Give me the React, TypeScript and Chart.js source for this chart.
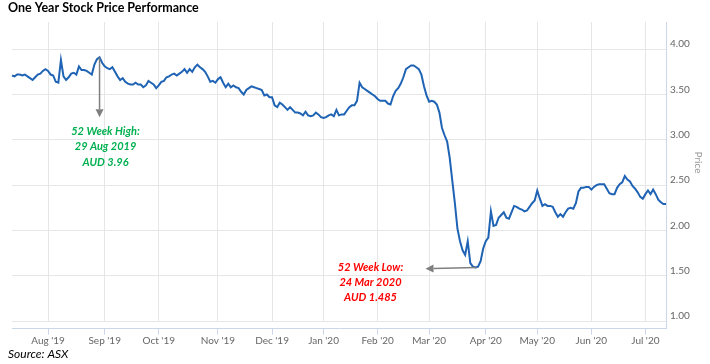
import React, { useEffect, useRef } from 'react';
import { Chart, registerables } from 'chart.js';

Chart.register(...registerables);

// ---------------- data ----------------
const FIRST_DAY = '2019-07-12';
const LAST_DAY = '2020-07-13';
const ASX_HOLIDAYS = ['2019-12-25', '2019-12-26', '2020-01-01', '2020-01-27', '2020-04-10', '2020-04-13', '2020-06-08'];

const pricesJul19 = [3.71, 3.70, 3.72, 3.72, 3.71, 3.72, 3.70, 3.68, 3.66, 3.69, 3.72, 3.73, 3.76, 3.78];
const pricesAug19 = [3.76, 3.72, 3.71, 3.64, 3.63, 3.88, 3.70, 3.66, 3.69, 3.73, 3.74, 3.72, 3.81, 3.77, 3.77, 3.76, 3.74, 3.72, 3.83, 3.89, 3.91, 3.85];
const pricesSep19 = [3.81, 3.79, 3.78, 3.80, 3.75, 3.70, 3.66, 3.68, 3.64, 3.62, 3.61, 3.61, 3.63, 3.61, 3.61, 3.58, 3.60, 3.65, 3.63, 3.61, 3.57];
const pricesOct19 = [3.60, 3.64, 3.65, 3.69, 3.70, 3.72, 3.73, 3.71, 3.73, 3.75, 3.78, 3.74, 3.78, 3.75, 3.80, 3.83, 3.80, 3.78, 3.75, 3.70, 3.64, 3.65, 3.63];
const pricesNov19 = [3.67, 3.69, 3.63, 3.58, 3.62, 3.58, 3.60, 3.58, 3.57, 3.53, 3.50, 3.55, 3.57, 3.59, 3.58, 3.57, 3.56, 3.55, 3.49, 3.50, 3.47];
const pricesDec19 = [3.47, 3.38, 3.36, 3.41, 3.39, 3.36, 3.33, 3.36, 3.33, 3.30, 3.30, 3.29, 3.27, 3.31, 3.27, 3.26, 3.27, 3.30, 3.28, 3.25];
const pricesJan20 = [3.24, 3.25, 3.27, 3.28, 3.26, 3.33, 3.27, 3.28, 3.28, 3.32, 3.36, 3.38, 3.38, 3.43, 3.63, 3.58, 3.56, 3.54, 3.52, 3.50, 3.48];
const pricesFeb20 = [3.45, 3.43, 3.43, 3.43, 3.40, 3.39, 3.48, 3.54, 3.57, 3.62, 3.69, 3.78, 3.80, 3.82, 3.82, 3.80, 3.78, 3.72, 3.59, 3.49];
const pricesMar20 = [3.42, 3.43, 3.42, 3.39, 3.30, 3.13, 3.05, 2.98, 2.80, 2.55, 2.30, 2.02, 1.88, 1.78, 1.73, 1.88, 1.64, 1.60, 1.59, 1.60, 1.66, 1.80];
const pricesApr20 = [1.88, 1.92, 2.21, 2.05, 2.06, 2.14, 2.17, 2.20, 2.14, 2.13, 2.20, 2.27, 2.26, 2.24, 2.23, 2.21, 2.22, 2.26, 2.30, 2.33];
const pricesMay20 = [2.44, 2.35, 2.27, 2.29, 2.27, 2.27, 2.26, 2.20, 2.15, 2.18, 2.15, 2.20, 2.24, 2.25, 2.24, 2.30, 2.43, 2.47, 2.47, 2.48, 2.48];
const pricesJun20 = [2.45, 2.48, 2.50, 2.51, 2.51, 2.51, 2.46, 2.41, 2.40, 2.40, 2.47, 2.51, 2.53, 2.60, 2.56, 2.54, 2.49, 2.46, 2.42, 2.37, 2.35];
const pricesJul20 = [2.40, 2.44, 2.40, 2.45, 2.40, 2.34, 2.31, 2.29, 2.29];

const Y_TICKS = [1.0, 1.5, 2.0, 2.5, 3.0, 3.5, 4.0];
const Y_MIN = 1.0;
const Y_MAX = 4.3;
const MONTH_NAMES = ['Jan', 'Feb', 'Mar', 'Apr', 'May', 'Jun', 'Jul', 'Aug', 'Sep', 'Oct', 'Nov', 'Dec'];

const TITLE = 'One Year Stock Price Performance';
const SOURCE = 'Source: ASX';
const AXIS_TITLE = 'Price';

const HIGH_DATE = '2019-08-29';
const HIGH_LINES = ['52 Week High:', '29 Aug 2019', 'AUD 3.96'];
const LOW_LINES = ['52 Week Low:', '24 Mar 2020', 'AUD 1.485'];

// ---------------- helpers ----------------
function tradingDays(start: string, end: string, holidays: string[]): string[] {
  const out: string[] = [];
  const d = new Date(start + 'T00:00:00Z');
  const e = new Date(end + 'T00:00:00Z');
  while (d <= e) {
    const wd = d.getUTCDay();
    const iso = d.toISOString().slice(0, 10);
    if (wd !== 0 && wd !== 6 && holidays.indexOf(iso) < 0) out.push(iso);
    d.setUTCDate(d.getUTCDate() + 1);
  }
  return out;
}

const PRICES = [
  ...pricesJul19, ...pricesAug19, ...pricesSep19, ...pricesOct19, ...pricesNov19, ...pricesDec19,
  ...pricesJan20, ...pricesFeb20, ...pricesMar20, ...pricesApr20, ...pricesMay20, ...pricesJun20, ...pricesJul20,
];
const DATES = tradingDays(FIRST_DAY, LAST_DAY, ASX_HOLIDAYS).slice(0, PRICES.length);

function isMonthStart(i: number) {
  if (i <= 0) return false;
  return DATES[i].slice(0, 7) !== DATES[i - 1].slice(0, 7);
}
function monthLabel(iso: string) {
  const m = parseInt(iso.slice(5, 7), 10) - 1;
  return `${MONTH_NAMES[m]} '${iso.slice(2, 4)}`;
}

// ---------------- styles ----------------
const LINE_COLOR = '#1f63b4';
const GRID_COLOR = '#e6e6e6';
const AXIS_COLOR = '#ccd6eb';
const LABEL_COLOR = '#666666';
const FONT = 'Lato';

function align(px: number) {
  return Math.round(px - 0.5) + 0.5;
}

function drawArrow(ctx: CanvasRenderingContext2D, x1: number, y1: number, x2: number, y2: number, color: string) {
  const ang = Math.atan2(y2 - y1, x2 - x1);
  const head = 8;
  const hw = 4;
  const bx = x2 - head * Math.cos(ang);
  const by = y2 - head * Math.sin(ang);
  ctx.strokeStyle = color;
  ctx.fillStyle = color;
  ctx.lineWidth = 1.5;
  ctx.beginPath();
  ctx.moveTo(x1, y1);
  ctx.lineTo(bx, by);
  ctx.stroke();
  ctx.beginPath();
  ctx.moveTo(x2, y2);
  ctx.lineTo(bx + hw * Math.sin(ang), by - hw * Math.cos(ang));
  ctx.lineTo(bx - hw * Math.sin(ang), by + hw * Math.cos(ang));
  ctx.closePath();
  ctx.fill();
}

const decorPlugin = {
  id: 'decor',
  afterDraw(chart: any) {
    const { ctx, chartArea, scales } = chart;
    const xs = scales.x;
    const ys = scales.y;
    ctx.save();

    // x axis line offset below the plot, with tick marks
    const axisY = align(chartArea.bottom + 7);
    ctx.strokeStyle = AXIS_COLOR;
    ctx.lineWidth = 1;
    ctx.beginPath();
    ctx.moveTo(chartArea.left, axisY);
    ctx.lineTo(chartArea.right + 1, axisY);
    ctx.stroke();
    const rx = align(chartArea.right);
    ctx.beginPath();
    ctx.moveTo(rx, chartArea.bottom);
    ctx.lineTo(rx, axisY);
    ctx.stroke();
    for (const t of xs.ticks) {
      const px = align(xs.getPixelForValue(t.value));
      ctx.beginPath();
      ctx.moveTo(px, axisY);
      ctx.lineTo(px, axisY + 6);
      ctx.stroke();
    }

    // axis title
    ctx.save();
    ctx.translate(chartArea.right + 32, (chartArea.top + chartArea.bottom) / 2 - 9);
    ctx.rotate(Math.PI / 2);
    ctx.font = `10px ${FONT}`;
    ctx.fillStyle = '#9a9a9a';
    ctx.textAlign = 'center';
    ctx.textBaseline = 'middle';
    ctx.fillText(AXIS_TITLE, 0, 0);
    ctx.restore();

    // title & source
    ctx.fillStyle = '#000000';
    ctx.textAlign = 'left';
    ctx.textBaseline = 'alphabetic';
    ctx.font = `bold 12.5px ${FONT}`;
    ctx.fillText(TITLE, 8, 12);
    ctx.font = `italic 12px ${FONT}`;
    ctx.fillText(SOURCE, 8, 358);

    // 52 week high annotation
    const hi = DATES.indexOf(HIGH_DATE);
    const hx = xs.getPixelForValue(hi);
    const hy1 = ys.getPixelForValue(PRICES[hi]);
    const hy2 = ys.getPixelForValue(3.25);
    drawArrow(ctx, hx, hy1, hx, hy2, '#7f7f7f');
    ctx.font = `italic bold 11px ${FONT}`;
    ctx.fillStyle = '#00b050';
    ctx.textAlign = 'center';
    ctx.textBaseline = 'middle';
    HIGH_LINES.forEach((s, k) => ctx.fillText(s, hx + 6, hy2 + 14 + k * 15.5));

    // 52 week low annotation
    let lo = 0;
    PRICES.forEach((v, i) => { if (v < PRICES[lo]) lo = i; });
    const lx1 = xs.getPixelForValue(lo + 0.4);
    const ly1 = ys.getPixelForValue(PRICES[lo]);
    const lx2 = xs.getPixelForValue(lo - 19.4);
    const ly2 = ys.getPixelForValue(PRICES[lo] - 0.012);
    drawArrow(ctx, lx1, ly1, lx2, ly2, '#7f7f7f');
    ctx.fillStyle = '#ff0000';
    LOW_LINES.forEach((s, k) => ctx.fillText(s, lx2 - 55, ly2 - 1 + k * 15));

    ctx.restore();
  },
};

export default function App() {
  const ref = useRef<HTMLCanvasElement | null>(null);

  useEffect(() => {
    document.body.style.margin = '0';
    const canvas = ref.current;
    if (!canvas) return;
    const chart = new Chart(canvas, {
      type: 'line',
      data: {
        labels: DATES,
        datasets: [
          {
            data: PRICES,
            borderColor: LINE_COLOR,
            borderWidth: 2,
            pointRadius: 0,
            tension: 0,
            fill: false,
          },
        ],
      },
      options: {
        animation: false,
        responsive: false,
        devicePixelRatio: 1,
        events: [],
        layout: { padding: { top: 22, right: 4, bottom: 0, left: 12 } },
        plugins: {
          legend: { display: false },
          tooltip: { enabled: false },
          title: { display: false },
        },
        scales: {
          x: {
            type: 'category',
            offset: false,
            border: { display: false },
            grid: { color: GRID_COLOR, drawTicks: false, lineWidth: 1 },
            afterBuildTicks: (scale: any) => {
              scale.ticks = scale.ticks.filter((t: any) => isMonthStart(t.value));
            },
            afterFit: (scale: any) => {
              scale.height = 43;
            },
            ticks: {
              autoSkip: false,
              maxRotation: 0,
              minRotation: 0,
              padding: 14,
              color: LABEL_COLOR,
              font: { family: FONT, size: 10 },
              callback: (value: any) => monthLabel(DATES[value as number]),
            },
          },
          y: {
            position: 'right',
            min: Y_MIN,
            max: Y_MAX,
            border: { display: true, color: AXIS_COLOR, width: 1 },
            grid: { color: GRID_COLOR, drawTicks: false, lineWidth: 1 },
            afterBuildTicks: (scale: any) => {
              scale.ticks = Y_TICKS.map((v) => ({ value: v }));
            },
            afterFit: (scale: any) => {
              scale.width = 40;
            },
            ticks: {
              padding: 4,
              labelOffset: -5,
              color: LABEL_COLOR,
              font: { family: FONT, size: 10 },
              callback: (value: any) => Number(value).toFixed(2),
            },
          },
        },
      },
      plugins: [decorPlugin],
    } as any);
    return () => chart.destroy();
  }, []);

  return (
    <div style={{ position: 'relative', width: 710, height: 364 }}>
      <canvas ref={ref} width={710} height={364} style={{ display: 'block' }} />
    </div>
  );
}
